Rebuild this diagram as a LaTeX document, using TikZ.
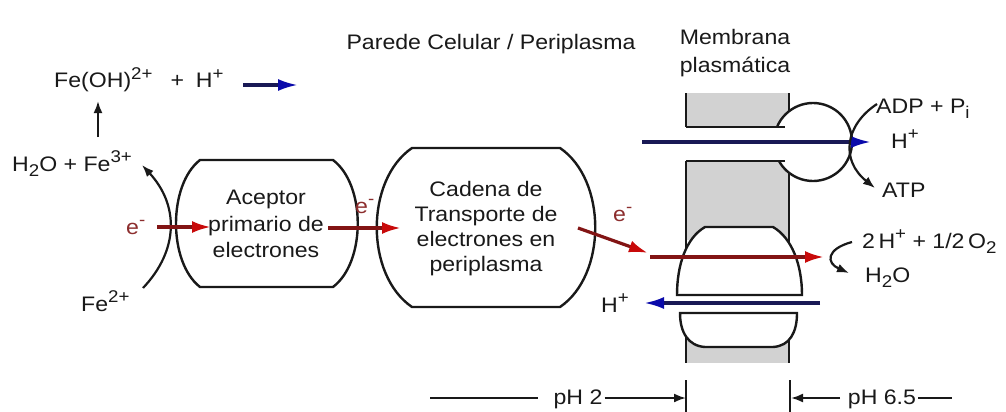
\documentclass[tikz,border=0pt]{standalone}
\usepackage{fontspec}
\setmainfont{Liberation Sans}[FakeStretch=1.1]
\usetikzlibrary{arrows.meta}
\definecolor{redshaft}{RGB}{130,20,20}
\definecolor{redhead}{RGB}{200,10,10}
\definecolor{blueshaft}{RGB}{25,25,85}
\definecolor{bluehead}{RGB}{10,10,170}
\definecolor{memgray}{RGB}{210,210,210}
\definecolor{elabel}{RGB}{140,45,45}
\definecolor{ink}{RGB}{25,25,25}
\newcommand\supx[1]{\raisebox{0.42em}{\fontsize{17}{17}\selectfont #1}}
\newcommand\subx[1]{\raisebox{-0.28em}{\fontsize{17}{17}\selectfont #1}}
\begin{document}
\begin{tikzpicture}[x=1pt,y=-1pt,
  lbl/.style={font=\fontsize{21}{25}\selectfont, inner sep=0pt, text=ink},
  elbl/.style={lbl, text=elabel},
  boxtxt/.style={lbl, align=center},
  outl/.style={line width=2.4pt, draw=ink},
  memline/.style={line width=2.2pt, ink},
  redarr/.style={line width=3.2pt, draw=redshaft, -{Latex[length=19pt,width=12pt,color=redhead]}},
  bluearr/.style={line width=3.2pt, draw=blueshaft, -{Latex[length=20pt,width=12pt,color=bluehead]}},
  blackarr/.style={line width=2.2pt, draw=ink, -{Latex[length=12pt,width=9pt]}},
  plainline/.style={line width=2pt, ink},
]
\useasboundingbox (0,0) rectangle (1006,412);
\fill[white] (0,0) rectangle (1006,412);

% ---------- membrane ----------
\fill[memgray] (686,93) rectangle (789,127);
\fill[memgray] (686,161) rectangle (789,240);
\fill[memgray] (686,313) rectangle (789,363);
\draw[memline] (686,93) -- (686,127);
\draw[memline] (686,161) -- (686,250);
\draw[memline] (789,93) -- (789,250);
\draw[memline] (686,313) -- (686,363);
\draw[memline] (789,313) -- (789,363);
% ATP synthase
\fill[white] (813,142) circle[radius=39];
\draw[outl] (813,142) ++(202.6:39) arc[start angle=202.6, end angle=510.8, radius=39];
\draw[memline] (686,127) -- (785,127);
\draw[memline] (686,161) -- (785,161);
% cytochrome oxidase
\draw[outl, fill=white] (705,227) -- (773,227) .. controls (792,238) and (802,265) .. (802,295)
  -- (677,295) .. controls (677,265) and (686,238) .. (705,227) -- cycle;
\draw[outl, fill=white] (680,313) -- (797,313) .. controls (797,332) and (790,346) .. (773,347)
  -- (705,347) .. controls (688,346) and (680,332) .. (680,313) -- cycle;
% ticks
\draw[memline] (686,380) -- (686,412);
\draw[memline] (790,380) -- (790,412);

% ---------- boxes ----------
\draw[outl] (200,160) -- (333,160) .. controls (366,185) and (366,262) .. (333,287)
  -- (200,287) .. controls (168,262) and (168,185) .. (200,160) -- cycle;
\node[boxtxt, font=\fontsize{21}{26.5}\selectfont] (acc) at (266,224) {Aceptor\\primario de\\electrones};
\draw[outl] (412,148) -- (560,148) .. controls (607,180) and (607,275) .. (560,307)
  -- (412,307) .. controls (365,275) and (365,180) .. (412,148) -- cycle;
\node[boxtxt, font=\fontsize{21}{25}\selectfont] (cad) at (486,229) {Cadena de\\Transporte de\\electrones en\\periplasma};

% ---------- labels ----------
\node[lbl, anchor=base] (title) at (491,49) {Parede Celular / Periplasma};
\node[lbl, anchor=base] (mem1) at (735,45) {Membrana};
\node[lbl, anchor=base] (mem2) at (735,73) {plasmática};
\node[lbl, anchor=base west] (feoh) at (54,88) {Fe(OH)\supx{2+}\hspace{18pt}+\hspace{12pt}H\supx{+}};
\node[lbl, anchor=base west] (h2ofe) at (12,171) {H\subx{2}O + Fe\supx{3+}};
\node[lbl, anchor=base west] (fe2) at (81,311) {Fe\supx{2+}};
\node[elbl, anchor=base west] (em1) at (126,234) {e\supx{-}};
\node[elbl, anchor=base west] (em2) at (355,213) {e\supx{-}};
\node[elbl, anchor=base west] (em3) at (613,221) {e\supx{-}};
\node[lbl, anchor=base west] (adp) at (876,113) {ADP + P\subx{i}};
\node[lbl, anchor=base west] (hp2) at (891,148) {H\supx{+}};
\node[lbl, anchor=base west] (atp) at (882,197) {ATP};
\node[lbl, anchor=base west] (o2) at (862,248) {2\,H\supx{+} + 1/2\,O\subx{2}};
\node[lbl, anchor=base west] (h2o) at (865,282) {H\subx{2}O};
\node[lbl, anchor=base west] (hp3) at (601,312) {H\supx{+}};
\node[lbl, anchor=base] (ph2) at (578,404) {pH 2};
\node[lbl, anchor=base] (ph65) at (882,404) {pH 6.5};

% ---------- connector end points ----------
\coordinate (up1) at (98,137);   \coordinate (up2) at (98,101);
\coordinate (arcA) at (143,288); \coordinate (arcB) at (142,165);
\coordinate (e1s) at (157,227);  \coordinate (e1t) at (211,227);
\coordinate (e2s) at (328,228);  \coordinate (e2t) at (401,228);
\coordinate (e3s) at (578,228);  \coordinate (e3t) at (648,253);
\coordinate (e4s) at (650,257);  \coordinate (e4t) at (824,257);
\coordinate (b1s) at (243,85);   \coordinate (b1t) at (298,85);
\coordinate (b2s) at (642,142);  \coordinate (b2t) at (871,142);
\coordinate (b3s) at (820,303);  \coordinate (b3t) at (644,303);
\coordinate (adpA) at (877,104); \coordinate (adpB) at (875,188);
\coordinate (oxA) at (852,242);  \coordinate (oxB) at (849,273);
\coordinate (phL) at (430,398);  \coordinate (phLend) at (538,398);
\coordinate (tickL) at (686,398);
\coordinate (tickR) at (791,398);
\coordinate (phR0) at (840,398); \coordinate (phR1) at (918,398); \coordinate (phR2) at (952,398);

% ---------- connectors ----------
\draw[blackarr] (up1) -- (up2);
\draw[blackarr] (arcA) .. controls (179,250) and (179,205) .. (arcB);
\draw[redarr] (e1s) -- (e1t);
\draw[redarr] (e2s) -- (e2t);
\draw[redarr] (e3s) -- (e3t);
\draw[redarr] (e4s) -- (e4t);
\draw[bluearr] (b1s) -- (b1t);
\draw[bluearr] (b2s) -- (b2t);
\draw[bluearr] (b3s) -- (b3t);
\draw[blackarr] (adpA) .. controls (845,125) and (840,160) .. (adpB);
\draw[blackarr] (oxA) .. controls (826,249) and (826,263) .. (oxB);
\draw[plainline] (phL) -- (phLend);
\draw[plainline, -{Latex[length=12pt,width=9pt]}] (ph2.east |- tickL) ++(2,0) -- (tickL);
\draw[plainline, -{Latex[length=12pt,width=9pt]}] (phR0) -- (tickR);
\draw[plainline] (phR1) -- (phR2);
\end{tikzpicture}
\end{document}
